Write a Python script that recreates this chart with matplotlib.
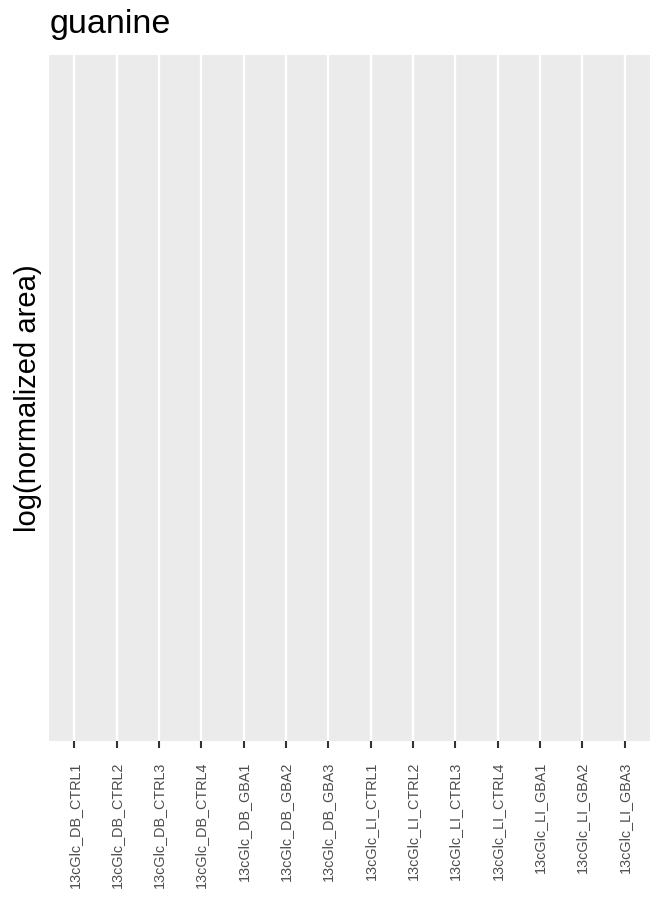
import matplotlib
matplotlib.use("Agg")
import matplotlib.pyplot as plt
import numpy as np

plt.rcParams['font.family'] = ['Liberation Sans', 'DejaVu Sans']

title = "guanine"
y_label = "log(normalized area)"
samples = [
    "13cGlc_DB_CTRL1", "13cGlc_DB_CTRL2", "13cGlc_DB_CTRL3", "13cGlc_DB_CTRL4",
    "13cGlc_DB_GBA1", "13cGlc_DB_GBA2", "13cGlc_DB_GBA3",
    "13cGlc_LI_CTRL1", "13cGlc_LI_CTRL2", "13cGlc_LI_CTRL3", "13cGlc_LI_CTRL4",
    "13cGlc_LI_GBA1", "13cGlc_LI_GBA2", "13cGlc_LI_GBA3",
]
# no measured values for this metabolite
values = [np.nan] * len(samples)

W, H = 661, 898
fig = plt.figure(figsize=(W / 100, H / 100), dpi=100)

left, right, top, bottom = 49, 650, 55, 741
ax = fig.add_axes([left / W, 1 - bottom / H, (right - left) / W, (bottom - top) / H])
ax.set_facecolor('#EBEBEB')

x = np.arange(len(samples))
ax.plot(x, values)
ax.set_xlim(-0.6, len(samples) - 1 + 0.6)
ax.set_ylim(0, 1)

for xi in x:
    ax.axvline(xi, color='white', linewidth=1.6, zorder=0.5)

ax.set_xticks(x)
ax.set_xticklabels(samples, rotation=90, fontsize=10.4, color='#4D4D4D',
                   va='top', ha='center')
ax.tick_params(axis='x', length=5, width=1.5, color='#333333', pad=9.5)
ax.set_yticks([])

for s in ax.spines.values():
    s.set_visible(False)

ax.set_ylabel(y_label, fontsize=21, color='black', va='center')
ax.yaxis.set_label_coords((28 - left) / (right - left), 0.5)

fig.text(50 / W, 1 - 33 / H, title, fontsize=24.5, ha='left', va='baseline',
         color='black')

fig.savefig("out.png", dpi=100, facecolor='white')
